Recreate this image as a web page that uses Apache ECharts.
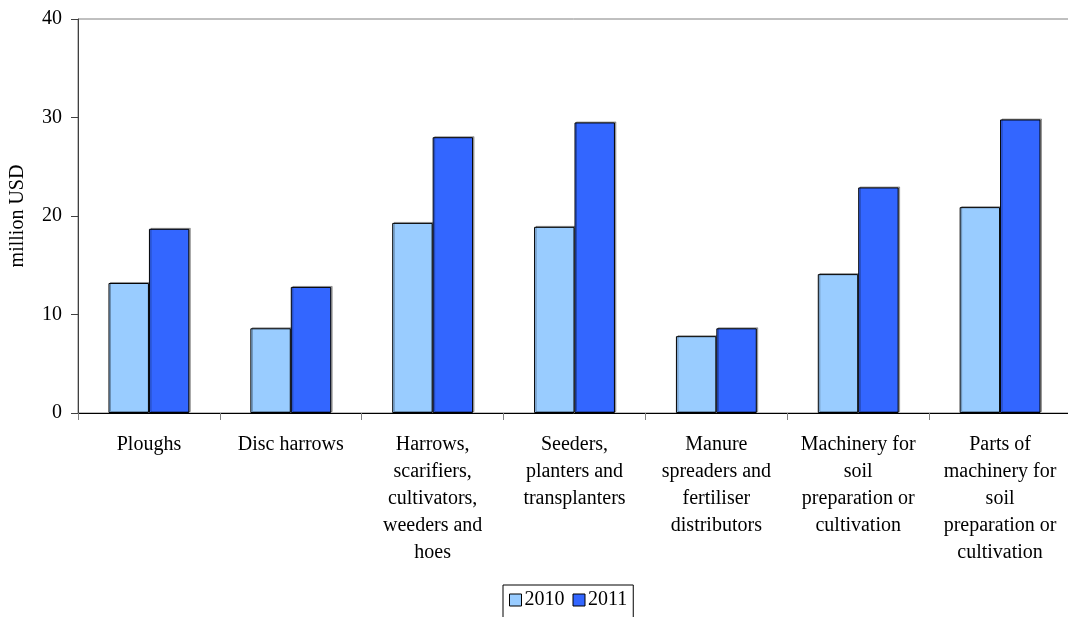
<!DOCTYPE html>
<html>
<head>
<meta charset="utf-8">
<script src="https://cdn.jsdelivr.net/npm/echarts@6/dist/echarts.min.js"></script>
<style>
  html, body { margin: 0; padding: 0; background: #fff; }
  #chart { width: 1068px; height: 617px; }
</style>
</head>
<body>
<div id="chart"></div>
<script>
// Categories of agricultural machinery (line breaks as shown under the axis)
var categories = [
  'Ploughs',
  'Disc harrows',
  'Harrows,\nscarifiers,\ncultivators,\nweeders and\nhoes',
  'Seeders,\nplanters and\ntransplanters',
  'Manure\nspreaders and\nfertiliser\ndistributors',
  'Machinery for\nsoil\npreparation or\ncultivation',
  'Parts of\nmachinery for\nsoil\npreparation or\ncultivation'
];

// Values in million USD
var values2010 = [13.2, 8.6, 19.3, 18.9, 7.8, 14.1, 20.9];
var values2011 = [18.7, 12.8, 28.0, 29.5, 8.6, 22.9, 29.8];

var yTicks = { min: 0, max: 40, interval: 10 };

var FONT = '"Liberation Serif", "DejaVu Serif", serif';

var barStyle = function (color) {
  return {
    color: color,
    borderColor: '#000',
    borderWidth: 1,
    shadowColor: 'rgba(0,0,0,0.3)',
    shadowOffsetX: 1.5,
    shadowOffsetY: -1,
    shadowBlur: 0
  };
};

var chart = echarts.init(document.getElementById('chart'), null, { renderer: 'canvas' });

chart.setOption({
  animation: false,
  backgroundColor: '#fff',
  textStyle: { fontFamily: FONT, color: '#000' },
  grid: {
    left: 78,
    top: 19,
    width: 993,
    height: 394,
    containLabel: false,
    outerBoundsMode: 'none',
    show: true,
    borderColor: '#808080',
    borderWidth: 1
  },
  legend: {
    left: 503,
    top: 585,
    padding: [5, 6, 8, 6],
    itemWidth: 12,
    itemHeight: 12,
    itemGap: 8,
    borderColor: '#000',
    borderWidth: 1,
    icon: 'rect',
    itemStyle: { borderColor: '#000', borderWidth: 1 },
    textStyle: { fontFamily: FONT, fontSize: 20, color: '#000', padding: [0, 0, 0, -2] },
    data: ['2010', '2011']
  },
  xAxis: {
    type: 'category',
    data: categories,
    boundaryGap: true,
    axisLine: { lineStyle: { color: '#000', width: 1 } },
    axisTick: { show: true, length: 7, alignWithLabel: false, lineStyle: { color: '#808080' } },
    axisLabel: {
      interval: 0,
      margin: 18,
      fontFamily: FONT,
      fontSize: 20,
      lineHeight: 27,
      color: '#000',
      align: 'center'
    },
    splitLine: { show: false }
  },
  yAxis: {
    type: 'value',
    min: yTicks.min,
    max: yTicks.max,
    interval: yTicks.interval,
    name: 'million USD',
    nameLocation: 'middle',
    nameRotate: 90,
    nameGap: 50,
    nameTextStyle: { fontFamily: FONT, fontSize: 20, color: '#000' },
    axisLine: { show: true, lineStyle: { color: '#404040', width: 1 } },
    axisTick: { show: true, length: 7, lineStyle: { color: '#404040' } },
    axisLabel: { margin: 16, fontFamily: FONT, fontSize: 20, color: '#000' },
    splitLine: { show: false }
  },
  series: [
    {
      name: '2010',
      type: 'bar',
      data: values2010,
      barGap: '0%',
      barCategoryGap: '43%',
      itemStyle: barStyle('#99CCFF')
    },
    {
      name: '2011',
      type: 'bar',
      data: values2011,
      barGap: '0%',
      barCategoryGap: '43%',
      itemStyle: barStyle('#3366FF')
    }
  ]
});
</script>
</body>
</html>
